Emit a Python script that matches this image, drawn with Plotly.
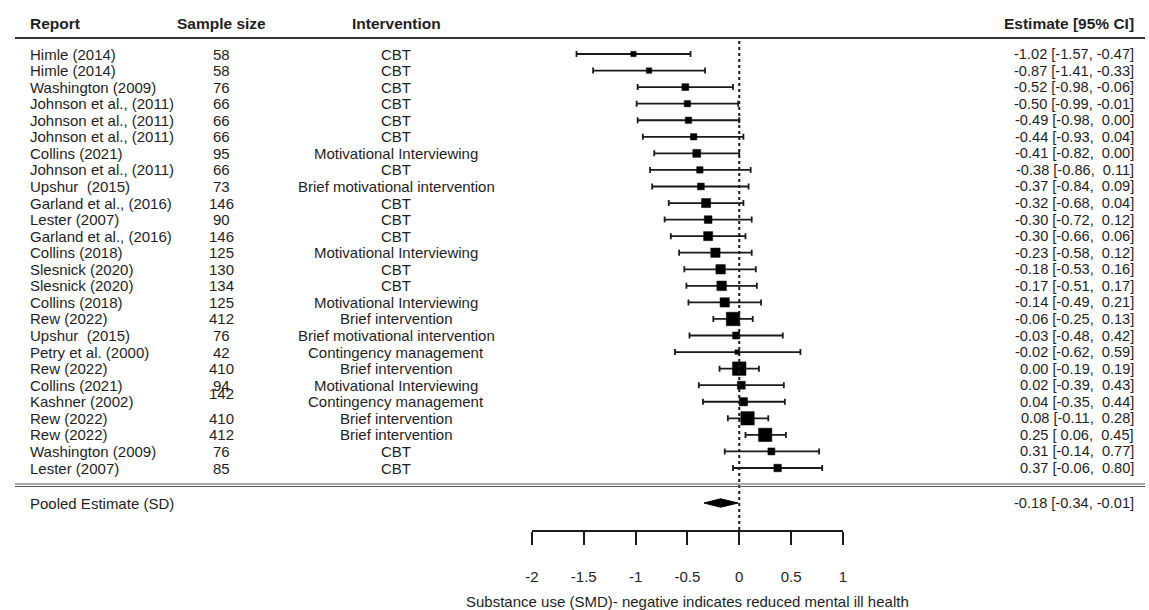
import plotly.graph_objects as go

# ---- study data -------------------------------------------------------------
reports = [
    "Himle (2014)", "Himle (2014)", "Washington (2009)", "Johnson et al., (2011)",
    "Johnson et al., (2011)", "Johnson et al., (2011)", "Collins (2021)",
    "Johnson et al., (2011)", "Upshur  (2015)", "Garland et al., (2016)",
    "Lester (2007)", "Garland et al., (2016)", "Collins (2018)", "Slesnick (2020)",
    "Slesnick (2020)", "Collins (2018)", "Rew (2022)", "Upshur  (2015)",
    "Petry et al. (2000)", "Rew (2022)", "Collins (2021)", "Kashner (2002)",
    "Rew (2022)", "Rew (2022)", "Washington (2009)", "Lester (2007)",
]
sample_sizes = [58, 58, 76, 66, 66, 66, 95, 66, 73, 146, 90, 146, 125, 130,
                134, 125, 412, 76, 42, 410, 94, 142, 410, 412, 76, 85]
interventions = [
    "CBT", "CBT", "CBT", "CBT", "CBT", "CBT", "Motivational Interviewing", "CBT",
    "Brief motivational intervention", "CBT", "CBT", "CBT",
    "Motivational Interviewing", "CBT", "CBT", "Motivational Interviewing",
    "Brief intervention", "Brief motivational intervention",
    "Contingency management", "Brief intervention", "Motivational Interviewing",
    "Contingency management", "Brief intervention", "Brief intervention", "CBT", "CBT",
]
estimates = [-1.02, -0.87, -0.52, -0.50, -0.49, -0.44, -0.41, -0.38, -0.37, -0.32,
             -0.30, -0.30, -0.23, -0.18, -0.17, -0.14, -0.06, -0.03, -0.02, 0.00,
             0.02, 0.04, 0.08, 0.25, 0.31, 0.37]
ci_lower = [-1.57, -1.41, -0.98, -0.99, -0.98, -0.93, -0.82, -0.86, -0.84, -0.68,
            -0.72, -0.66, -0.58, -0.53, -0.51, -0.49, -0.25, -0.48, -0.62, -0.19,
            -0.39, -0.35, -0.11, 0.06, -0.14, -0.06]
ci_upper = [-0.47, -0.33, -0.06, -0.01, 0.00, 0.04, 0.00, 0.11, 0.09, 0.04,
            0.12, 0.06, 0.12, 0.16, 0.17, 0.21, 0.13, 0.42, 0.59, 0.19,
            0.43, 0.44, 0.28, 0.45, 0.77, 0.80]

pooled_label = "Pooled Estimate (SD)"
pooled_est, pooled_lo, pooled_hi = -0.18, -0.34, -0.01

column_headers = ["Report", "Sample size", "Intervention", "Estimate [95% CI]"]
tick_vals = [-2, -1.5, -1, -0.5, 0, 0.5, 1]
tick_labels = ["-2", "-1.5", "-1", "-0.5", "0", "0.5", "1"]
x_title = "Substance use (SMD)- negative indicates reduced mental ill health"

# ---- page geometry ------------------------------------------------------------
W, H = 1149, 610
ROW0_PX, ROW_STEP = 54.0, 16.56          # centre of first row, row pitch (px)


def row_at(px):
    """Row coordinate for a vertical pixel position."""
    return 1 + (px - ROW0_PX) / ROW_STEP


def xp(px):
    return px / W


FONT = "Liberation Sans, Arial, sans-serif"
TXT = "#1e1e1e"
INK = "#1a1a1a"
FS = 15

n = len(reports)
rows = list(range(1, n + 1))
header_row = row_at(23)
pooled_row = row_at(503)
axis_row = row_at(531)

# marker size from random-effects style weights, scaled to 0.5-1.5 like metafor
tau2 = 0.05
wts = [1 / (((hi - lo) / 3.92) ** 2 + tau2) for lo, hi in zip(ci_lower, ci_upper)]
wmin, wmax = min(wts), max(wts)
psize = [0.5 + (w - wmin) / (wmax - wmin) for w in wts]
msize = [9 * p for p in psize]


def fmt(v):
    return f"{v:.2f}".rjust(5).replace(" ", "\u00a0")


est_text = [f"{e:.2f} [{fmt(lo)}, {fmt(hi)}]" for e, lo, hi in zip(estimates, ci_lower, ci_upper)]
pooled_text = f"{pooled_est:.2f} [{fmt(pooled_lo)}, {fmt(pooled_hi)}]"

fig = go.Figure()

# 95% CI whiskers
fig.add_trace(go.Scatter(
    x=estimates, y=rows, mode="markers",
    marker=dict(size=1, color="rgba(0,0,0,0)"),
    error_x=dict(type="data", symmetric=False,
                 array=[hi - e for e, hi in zip(estimates, ci_upper)],
                 arrayminus=[e - lo for e, lo in zip(estimates, ci_lower)],
                 color=INK, thickness=1.8, width=3),
    hoverinfo="skip", showlegend=False,
))

# study estimates, drawn over the whiskers
fig.add_trace(go.Scatter(
    x=estimates, y=rows, mode="markers",
    marker=dict(symbol="square", size=msize, color="black", opacity=1,
                line=dict(width=0.5, color="black")),
    hoverinfo="skip", showlegend=False,
))

# pooled estimate diamond
dh = 4.2 / ROW_STEP
fig.add_trace(go.Scatter(
    x=[pooled_lo, pooled_est, pooled_hi, pooled_est, pooled_lo],
    y=[pooled_row, pooled_row - dh, pooled_row, pooled_row + dh, pooled_row],
    mode="lines", fill="toself", fillcolor="black",
    line=dict(color="black", width=1), hoverinfo="skip", showlegend=False,
))

shapes = [
    # reference line at zero
    dict(type="line", xref="x", yref="y", x0=0, x1=0, y0=row_at(41), y1=axis_row,
         line=dict(color=INK, width=2, dash="dot")),
    # rule under the column headers
    dict(type="line", xref="paper", yref="y", x0=xp(8), x1=1, y0=row_at(38), y1=row_at(38),
         line=dict(color="#333333", width=2)),
    # double rule above the pooled row
    dict(type="line", xref="paper", yref="y", x0=xp(8), x1=1, y0=row_at(484), y1=row_at(484),
         line=dict(color="#555555", width=1)),
    dict(type="line", xref="paper", yref="y", x0=xp(8), x1=1, y0=row_at(486.5), y1=row_at(486.5),
         line=dict(color="#555555", width=1)),
]

ann = []


def txt(x_px, y, text, anchor, size=FS, bold=False):
    ann.append(dict(
        x=xp(x_px), y=y, xref="paper", yref="y", text=f"<b>{text}</b>" if bold else text,
        xanchor=anchor, yanchor="middle", showarrow=False,
        font=dict(family=FONT, size=size, color=TXT),
    ))


COL_REPORT, COL_N, COL_INT, COL_EST = 21, 217, 393, 1140

# column headers
for label, x_px, anchor in zip(column_headers,
                               [COL_REPORT, COL_N, COL_INT, COL_EST],
                               ["left", "center", "center", "right"]):
    txt(x_px, header_row, label, anchor, size=15.5, bold=True)

# Kashner (2002)'s sample size is set half a row up
n_shift = {reports.index("Kashner (2002)"): -0.5}

for i in range(n):
    r = rows[i]
    txt(COL_REPORT, r, reports[i].replace("  ", " \u00a0"), "left")
    txt(COL_N, r + n_shift.get(i, 0), str(sample_sizes[i]), "center")
    txt(COL_INT, r, interventions[i], "center")
    txt(COL_EST, r, est_text[i], "right", size=14.6)

txt(COL_REPORT, pooled_row, pooled_label, "left")
txt(COL_EST, pooled_row, pooled_text, "right", size=14.6)

# axis title centred under the scale
ann.append(dict(
    x=(tick_vals[0] + tick_vals[-1]) / 2, y=row_at(601), xref="x", yref="y",
    text=x_title, xanchor="center", yanchor="middle", showarrow=False,
    font=dict(family=FONT, size=15, color=TXT),
))

y_bottom, y_top = row_at(H), row_at(0)

fig.update_layout(
    width=W, height=H, margin=dict(l=0, r=0, t=0, b=0),
    paper_bgcolor="white", plot_bgcolor="rgba(0,0,0,0)",
    shapes=shapes, annotations=ann,
    xaxis=dict(
        domain=[xp(530), xp(844)], range=[tick_vals[0], tick_vals[-1]],
        anchor="free", position=(y_bottom - axis_row) / (y_bottom - y_top),
        showline=True, linecolor=INK, linewidth=1.5, mirror=False,
        ticks="outside", ticklen=13, tickwidth=1.5, tickcolor=INK,
        tickvals=tick_vals, ticktext=tick_labels, ticklabelstandoff=19,
        tickfont=dict(family=FONT, size=15, color=TXT),
        showgrid=False, zeroline=False, fixedrange=True,
    ),
    yaxis=dict(
        domain=[0, 1], range=[y_bottom, y_top], visible=False,
        showgrid=False, zeroline=False, fixedrange=True,
    ),
)

fig.write_html("out.html")
